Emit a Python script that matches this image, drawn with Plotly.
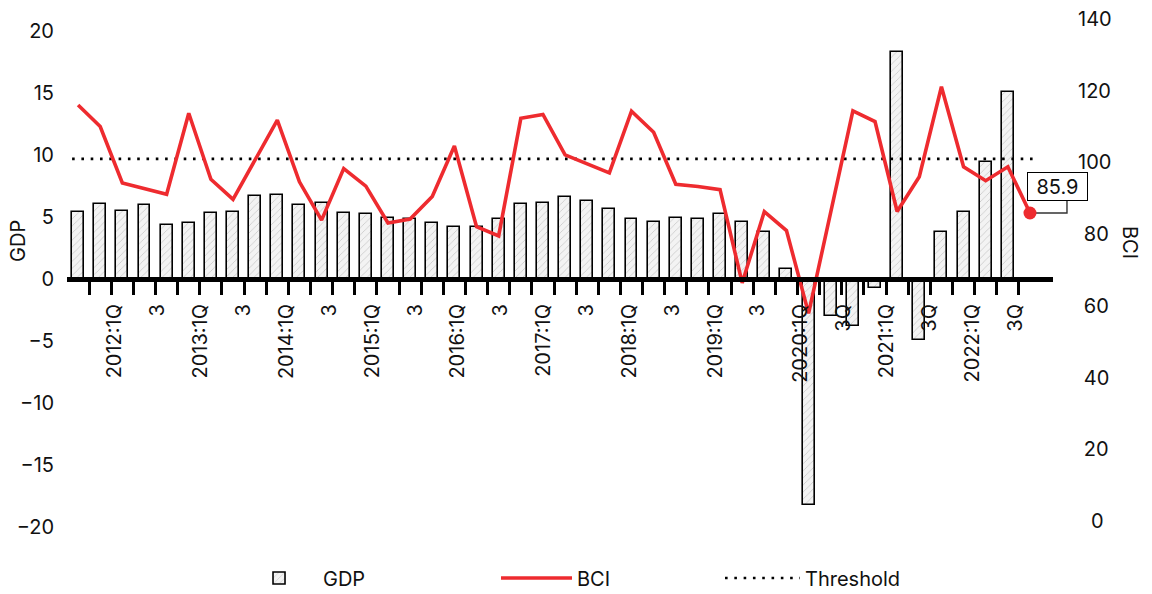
import plotly.graph_objects as go

# Quarterly GDP growth (left axis) and business confidence index (right axis)
gdp = [5.43, 6.02, 5.46, 5.97, 4.35, 4.54, 5.35, 5.40, 6.69, 6.80, 5.97, 6.15, 5.35, 5.22, 4.89,
       4.84, 4.52, 4.17, 4.22, 4.84, 6.05, 6.13, 6.59, 6.32, 5.65, 4.81, 4.57, 4.94, 4.81, 5.22,
       4.60, 3.76, 0.78, -18.2, -2.98, -3.79, -0.75, 18.28, -4.92, 3.82, 5.43, 9.46, 15.06]
bci = [116.0, 110.0, 94.3, 92.6, 91.1, 113.7, 95.3, 89.7, 101.0, 111.8, 94.6, 83.9, 98.3, 93.4, 83.1,
       84.2, 90.5, 104.6, 82.1, 79.5, 112.3, 113.4, 102.1, 99.6, 97.1, 114.3, 108.4, 93.9, 93.3, 92.4,
       66.4, 86.3, 81.0, 57.9, 86.2, 114.4, 111.4, 86.3, 96.0, 121.1, 98.8, 94.9, 98.8, 85.9]
threshold = 101.0

x_labels = ["2012:1Q", "3", "2013:1Q", "3", "2014:1Q", "3", "2015:1Q", "3", "2016:1Q", "3",
            "2017:1Q", "3", "2018:1Q", "3", "2019:1Q", "3", "2020:1Q", "3Q", "2021:1Q", "3Q",
            "2022:1Q", "3Q"]
gdp_ticks = [-20, -15, -10, -5, 0, 5, 10, 15, 20]
bci_ticks = [0, 20, 40, 60, 80, 100, 120, 140]

qx = list(range(len(bci)))          # one slot per quarter
FONT = "Inter"
RED = "#ee2b2f"

W, H = 1152, 594
M = dict(l=67, r=99, t=19, b=64)
plot_w = W - M["l"] - M["r"]
plot_h = H - M["t"] - M["b"]

# axis ranges
y_rng = [-20.24, 20.97]
y2_rng = [-2.51, 140.0]
x_rng = [-0.5, 44.04]
lab_rng = [-1.12, 21.885]
zero_pos = (0 - y_rng[0]) / (y_rng[1] - y_rng[0])


def pad_label(v):
    s = str(v)
    if len(s) == 1:
        return "\u2007" + s
    if len(s) == 2:
        return "\u2008" + s
    return s


fig = go.Figure()

fig.add_trace(go.Bar(
    x=qx[:len(gdp)], y=gdp, name="GDP", width=0.54, legend="legend",
    marker=dict(color="#f3f3f3", line=dict(color="black", width=1.6),
                pattern=dict(shape="/", fgcolor="#9a9a9a", bgcolor="#f3f3f3",
                             size=5, solidity=0.15)),
))
fig.add_trace(go.Scatter(
    x=[qx[0] - 0.27, qx[-1] + 0.36], y=[threshold, threshold], yaxis="y2",
    mode="lines", name="Threshold", legend="legend3",
    line=dict(color="black", width=2.6, dash="2.6px,6.7px"),
))
fig.add_trace(go.Scatter(
    x=qx, y=bci, yaxis="y2", mode="lines", name="BCI", legend="legend2",
    line=dict(color=RED, width=3.6),
))
fig.add_trace(go.Scatter(
    x=[qx[-1]], y=[bci[-1]], yaxis="y2", mode="markers", showlegend=False,
    marker=dict(color=RED, size=13),
))
# carrier for the quarter labels axis
fig.add_trace(go.Scatter(
    x=list(range(len(x_labels))), y=[None] * len(x_labels), xaxis="x2",
    mode="markers", showlegend=False, hoverinfo="skip",
))

legend_common = dict(orientation="h", yanchor="middle", y=-0.094, xanchor="left",
                     bgcolor="rgba(0,0,0,0)", font=dict(family=FONT, size=20, color="#111"))

# elbow connector from the last point to its value box (paper units, so it
# is not clipped at the plot edge)
px0 = (qx[-1] - x_rng[0]) / (x_rng[1] - x_rng[0])
py0 = (bci[-1] - y2_rng[0]) / (y2_rng[1] - y2_rng[0])
px1 = px0 + 37 / plot_w
py1 = py0 + 13 / plot_h
connector = f"M{px0},{py0} L{px1},{py0} L{px1},{py1}"

fig.update_layout(
    width=W, height=H,
    margin=dict(M, autoexpand=False),
    plot_bgcolor="white", paper_bgcolor="white",
    font=dict(family=FONT, color="#111"),
    bargap=0,
    xaxis=dict(range=x_rng, anchor="free", position=zero_pos, showline=True,
               linewidth=5, linecolor="black", ticks="outside", ticklen=13,
               tickwidth=2.5, tickcolor="black",
               tickvals=[i + 0.5 for i in range(len(gdp))],
               showticklabels=False, showgrid=False, zeroline=False,
               layer="above traces"),
    xaxis2=dict(range=lab_rng, overlaying="x", anchor="free", position=zero_pos,
                side="bottom", tickvals=list(range(len(x_labels))), ticktext=x_labels,
                tickangle=-90, ticks="", showline=False, showgrid=False, zeroline=False,
                ticklabelstandoff=20, tickfont=dict(family=FONT, size=20, color="#111")),
    yaxis=dict(range=y_rng, tickvals=gdp_ticks, showgrid=False, zeroline=False,
               showline=False, ticks="", ticklabelstandoff=12,
               tickfont=dict(family=FONT, size=20, color="#111")),
    yaxis2=dict(range=y2_rng, overlaying="y", side="right", tickvals=bci_ticks,
                ticktext=[pad_label(v) for v in bci_ticks], showgrid=False,
                zeroline=False, showline=False, ticks="", ticklabelstandoff=24,
                tickfont=dict(family=FONT, size=20, color="#111")),
    legend=dict(legend_common, x=0.1704, itemwidth=78),
    legend2=dict(legend_common, x=0.4351, itemwidth=71),
    legend3=dict(legend_common, x=0.6623, itemwidth=75),
    annotations=[
        dict(text="GDP", xref="paper", yref="paper", x=-0.0497, y=0.5656,
             xanchor="center", yanchor="middle",
             textangle=-90, showarrow=False, font=dict(family=FONT, size=20, color="#111")),
        dict(text="BCI", xref="paper", yref="paper", x=1.0781, y=0.5636,
             xanchor="center", yanchor="middle",
             textangle=90, showarrow=False, font=dict(family=FONT, size=20, color="#111")),
        dict(text=f"{bci[-1]:.1f}", x=qx[-1], y=bci[-1], xref="x", yref="y2",
             showarrow=True, arrowcolor="rgba(0,0,0,0)", arrowwidth=0.1, ax=27.5, ay=-26,
             width=53, height=21, align="center",
             bordercolor="black", borderwidth=1, borderpad=3, bgcolor="white",
             font=dict(family=FONT, size=20, color="#111")),
    ],
    shapes=[
        dict(type="path", xref="paper", yref="paper", path=connector, layer="below",
             line=dict(color="#333", width=1.4)),
    ],
)

fig.write_html("out.html")
